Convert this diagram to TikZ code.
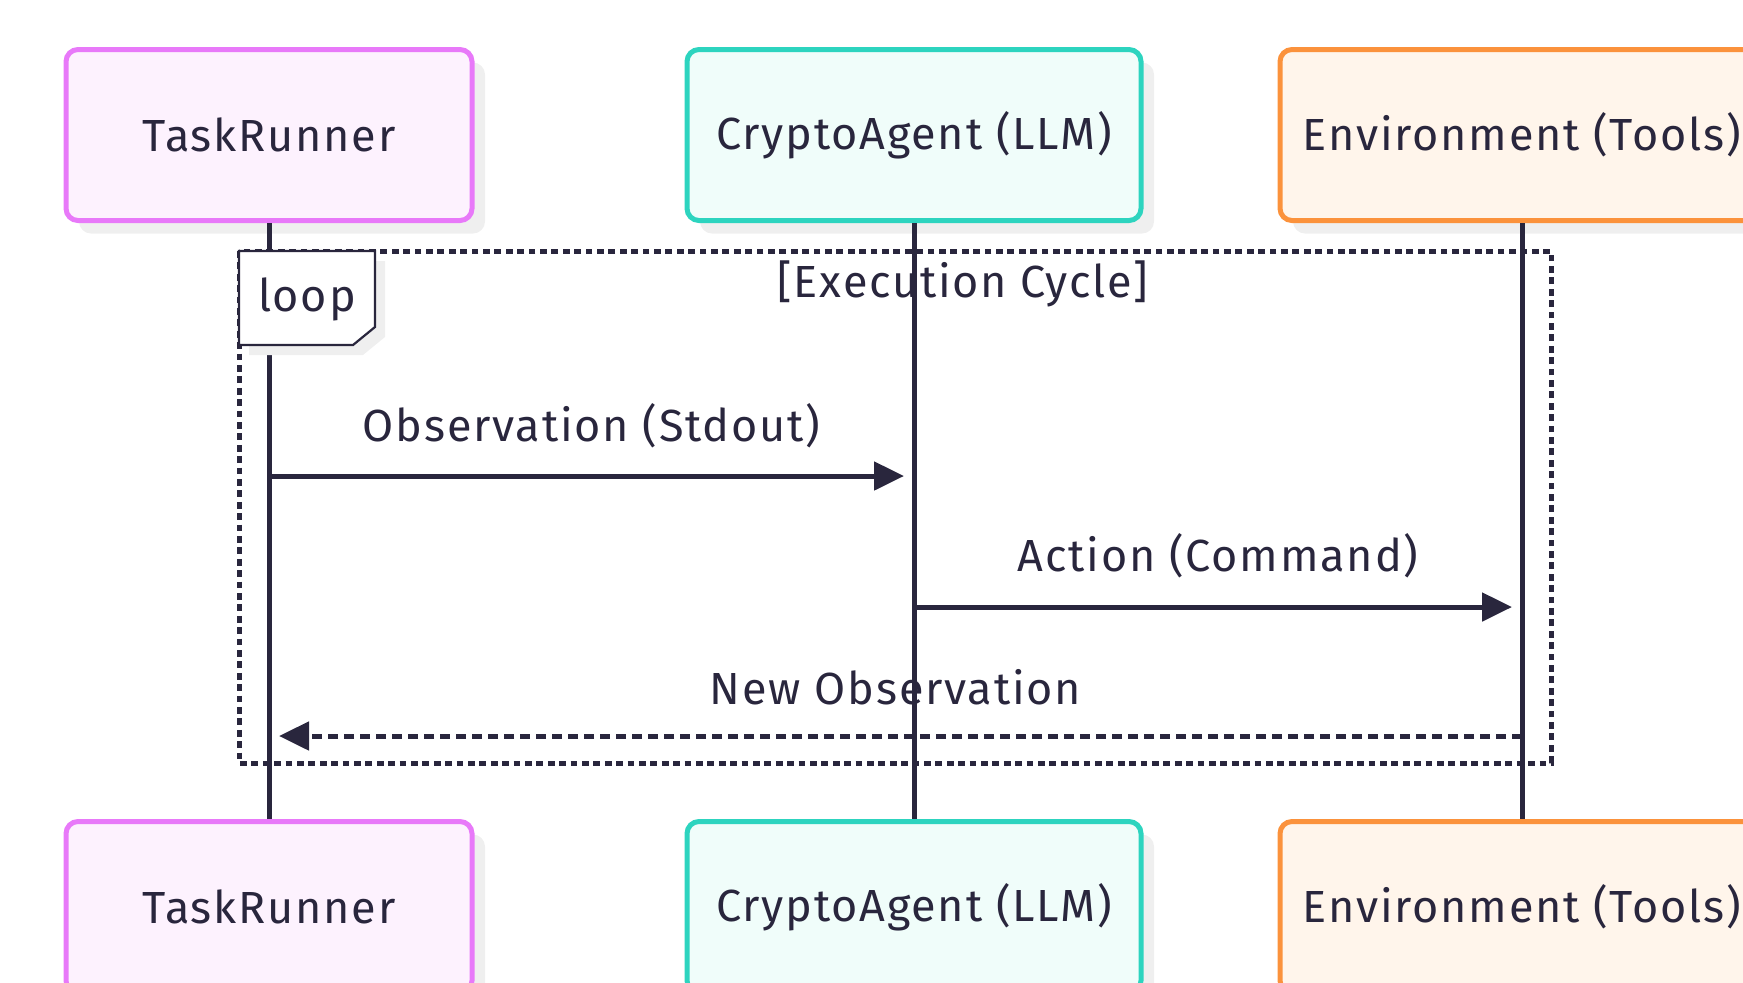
\documentclass[tikz,border=0pt]{standalone}
\usepackage{fontspec}
\setmainfont[LetterSpace=4]{Fira Sans}
\usepackage{xcolor}
\usetikzlibrary{calc,arrows.meta,positioning,shadows}

\definecolor{ink}{HTML}{29263D}
\definecolor{runline}{HTML}{E879F9}
\definecolor{runfill}{HTML}{FDF2FE}
\definecolor{agentline}{HTML}{2DD4BF}
\definecolor{agentfill}{HTML}{F0FDFA}
\definecolor{envline}{HTML}{FB923C}
\definecolor{envfill}{HTML}{FFF5EB}
\definecolor{shade}{HTML}{EFEFEF}

\tikzset{
  actor/.style={draw, rounded corners=6pt, line width=2.5pt, minimum height=85.5pt,
    text=ink, font=\fontsize{22.5}{27}\selectfont, inner sep=0pt,
    drop shadow={shadow xshift=6.5pt, shadow yshift=-6.5pt, fill=shade, opacity=1}},
  lifeline/.style={draw=ink, line width=2.5pt},
  msg/.style={draw=ink, line width=2.5pt, -{Triangle[length=15pt,width=14pt]}, shorten >=5pt},
  reply/.style={msg, dash pattern=on 5pt off 3pt},
  msglabel/.style={text=ink, font=\fontsize{22.5}{27}\selectfont, inner sep=0pt},
  frame/.style={draw=ink, line width=2.5pt, dash pattern=on 3.4pt off 2.3pt},
}

\begin{document}
\begin{tikzpicture}[x=0.5pt,y=-0.5pt]
  \useasboundingbox (0,0) rectangle (1743,982);
  \clip (0,0) rectangle (1743,982);

  % --- Participants (top row) ---
  \node[actor, draw=runline, fill=runfill, minimum width=203pt] (trT) at (269,135) {TaskRunner};
  \node[actor, draw=agentline, fill=agentfill, minimum width=227pt] (caT) at (914,135) {CryptoAgent (LLM)};
  \node[actor, draw=envline, fill=envfill, minimum width=242pt] (enT) at (1522,135) {Environment (Tools)};

  % --- Participants (bottom row) ---
  \node[actor, draw=runline, fill=runfill, minimum width=203pt] (trB) at (269,907) {TaskRunner};
  \node[actor, draw=agentline, fill=agentfill, minimum width=227pt] (caB) at (914,907) {CryptoAgent (LLM)};
  \node[actor, draw=envline, fill=envfill, minimum width=242pt] (enB) at (1522,907) {Environment (Tools)};

  % --- Lifelines ---
  \draw[lifeline] (trT) -- (trB);
  \draw[lifeline] (caT) -- (caB);
  \draw[lifeline] (enT) -- (enB);

  % --- Loop frame ---
  \coordinate (loopNW) at (239,251);
  \coordinate (loopSE) at (1551,763);
  \draw[frame] (loopNW) rectangle (loopSE);
  \draw[draw=ink, line width=1.1pt, fill=white,
    drop shadow={shadow xshift=5pt, shadow yshift=-5pt, fill=shade, opacity=1}]
    (loopNW) -- ++(136,0) -- ++(0,76) -- ++(-22,18) -- ++(-114,0) -- cycle;
  \node[msglabel] (looptag) at (307,299) {loop};
  \node[msglabel] (cycle) at (963,284) {[Execution Cycle]};

  % --- Messages ---
  \coordinate (row1) at (0,476);
  \coordinate (row2) at (0,607);
  \coordinate (row3) at (0,736);

  \draw[msg] (trT |- row1) -- (caT |- row1);
  \node[msglabel] (obs) at ($(trT |- row1)!0.5!(caT |- row1)+(0,-50)$) {Observation (Stdout)};

  \draw[msg] (caT |- row2) -- (enT |- row2);
  \node[msglabel] (act) at ($(caT |- row2)!0.5!(enT |- row2)+(0,-51)$) {Action (Command)};

  \draw[reply] (enT |- row3) -- (trT |- row3);
  \node[msglabel] (newobs) at ($(enT |- row3)!0.5!(trT |- row3)+(0,-49)$) {New Observation};
\end{tikzpicture}
\end{document}
